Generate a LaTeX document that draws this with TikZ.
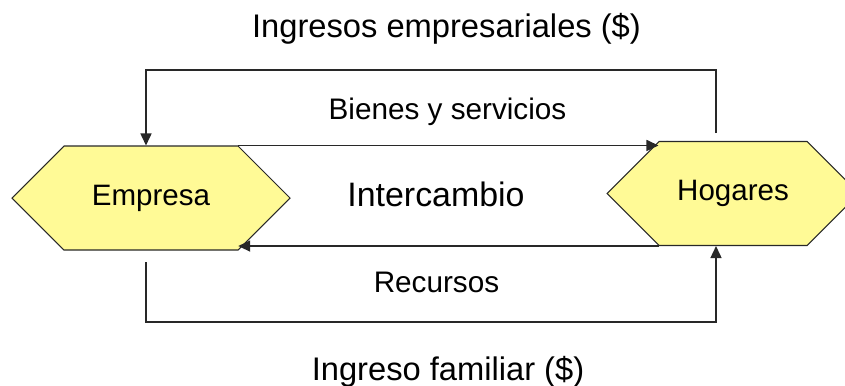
\documentclass[tikz,border=0pt]{standalone}
\usepackage{fontspec}
\setmainfont{Liberation Sans}
\usetikzlibrary{shapes.symbols,arrows.meta}
\definecolor{hexyellow}{RGB}{255,250,150}
\definecolor{linegray}{RGB}{40,40,40}

\begin{document}
\begin{tikzpicture}[
    hexa/.style={shape=signal,signal to=east and west,signal pointer angle=90,
      draw=linegray,line width=0.6pt,fill=hexyellow,minimum height=2.08cm,
      inner sep=0pt,font=\fontsize{16.8}{20}\selectfont},
    flujo/.style={draw=linegray,line width=0.9pt,-{Triangle[length=0.24cm,width=0.22cm]}},
    grande/.style={font=\fontsize{18.6}{22}\selectfont,anchor=base},
    chica/.style={font=\fontsize{16.9}{20}\selectfont,anchor=base}]
  \path[use as bounding box,clip] (0,0) rectangle (16.9,-7.7);

  % Agents
  \node[hexa,minimum width=5.56cm] (emp) at (3.02,-3.96) {Empresa};
  \node[hexa,minimum width=5.04cm] (hog) at (14.66,-3.87) {Hogares};

  % Labels
  \node[grande] (ingemp) at (8.93,-0.74) {Ingresos empresariales (\$)};
  \node[chica] (bienes) at (8.95,-2.38) {Bienes y servicios};
  \node[grande,font=\fontsize{19.3}{23}\selectfont] (interc) at (8.72,-4.12) {Intercambio};
  \node[chica] (recur) at (8.73,-5.84) {Recursos};
  \node[grande] (ingfam) at (8.96,-7.6) {Ingreso familiar (\$)};

  % Upper loop and goods
  \coordinate (arribaD) at (14.32,-2.66);
  \coordinate (arribaI) at (2.92,-1.4);
  \draw[flujo] (arribaD) |- (arribaI) -- (arribaI |- emp.north);
  \draw[flujo] (emp.north east) -- (emp.north east -| hog.north west);

  % Resources and lower loop
  \draw[flujo] (hog.south west) -- (hog.south west -| emp.south east);
  \coordinate (abajoI) at (2.92,-5.24);
  \coordinate (abajoD) at (14.32,-6.44);
  \draw[flujo] (abajoI) |- (abajoD) -- (abajoD |- hog.south);
\end{tikzpicture}
\end{document}
